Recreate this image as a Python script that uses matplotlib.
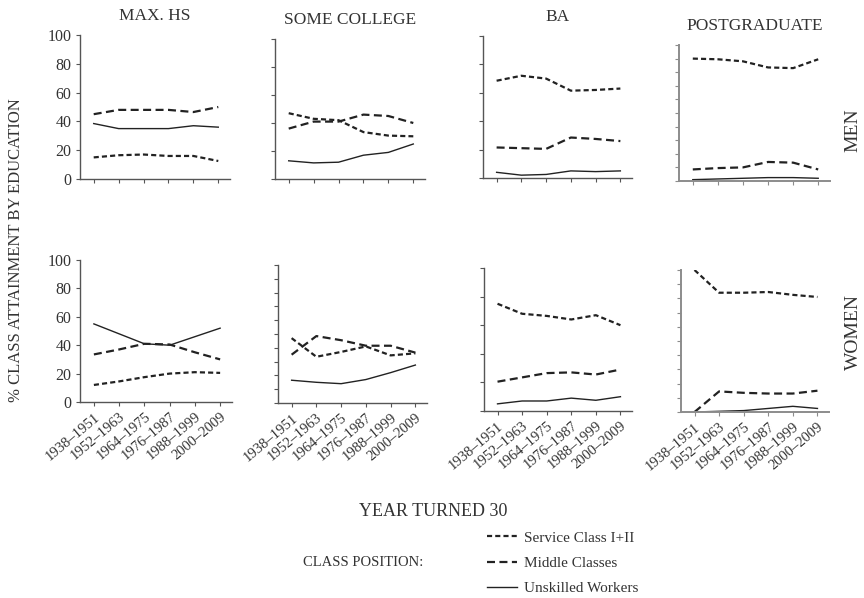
import numpy as np
import matplotlib.pyplot as plt
from matplotlib.ticker import MultipleLocator

plt.rcParams['font.family'] = ['Liberation Serif', 'DejaVu Serif']

# cohorts (year turned 30)
cohorts = ["1938–1951", "1952–1963", "1964–1975", "1976–1987", "1988–1999", "2000–2009"]
education = ["MAX. HS", "SOME COLLEGE", "BA", "POSTGRADUATE"]
sexes = ["MEN", "WOMEN"]

# % class attainment, men
men_service = [
    [15, 16.5, 17, 16, 16, 12.5],
    [47, 43, 42, 33.5, 31, 30.5],
    [68.5, 72, 70, 61.5, 62, 63],
    [90, 89.5, 88, 83.5, 83, 89.5],
]
men_middle = [
    [45, 48, 48, 48, 46.5, 50],
    [36, 41, 41, 46, 45, 40],
    [21.5, 21, 20.5, 28.5, 27.5, 26],
    [8.5, 9.5, 10, 14, 13.5, 8.5],
]
men_unskilled = [
    [38.5, 35, 35, 35, 37, 36],
    [13, 11.5, 12, 17, 19, 25],
    [4, 2, 2.5, 5, 4.5, 5],
    [1, 1.5, 2, 2.5, 2.5, 2],
]

# % class attainment, women
women_service = [
    [12, 14.5, 17.5, 20, 21, 20.5],
    [47, 33.5, 37, 41, 34.5, 36],
    [75, 68, 66.5, 64, 67, 60],
    [100, 84, 84, 84.5, 82.5, 81],
]
women_middle = [
    [33.5, 37, 41, 40.5, 35, 30],
    [35, 48.5, 45.5, 41.5, 41.5, 36.5],
    [20.5, 23.5, 26.5, 27, 25.5, 29],
    [0, 14.5, 13.5, 13, 13, 15],
]
women_unskilled = [
    [55, 48, 41, 40, 46, 52],
    [16.5, 15, 14, 17, 22, 27.5],
    [5, 7, 7, 9, 7.5, 10],
    [0, 0.5, 1, 2.5, 4, 2.5],
]

data = {
    "MEN": (men_service, men_middle, men_unskilled),
    "WOMEN": (women_service, women_middle, women_unskilled),
}

# panel boxes in pixels: (left, right, y of 100, y of 0)
W, H = 864, 598
boxes = {
    "MEN": [(80, 230, 35, 179), (275, 425, 39, 179), (483, 632, 36, 178), (679, 830, 45, 181)],
    "WOMEN": [(80, 232, 260, 402), (278, 427, 265, 403), (484, 632, 268, 411), (681, 829, 270, 412)],
}
# y tick step per panel
ystep = {"MEN": [20, 20, 20, 10], "WOMEN": [20, 10, 20, 10]}

text_col = '#333333'
line_col = '#222222'
service_style = dict(color=line_col, lw=1.6, dashes=(2.3, 1.4))
middle_style = dict(color=line_col, lw=1.6, dashes=(3.6, 2.0))
unskilled_style = dict(color=line_col, lw=1.0)

fig = plt.figure(figsize=(W / 100, H / 100), dpi=100)
x = np.arange(len(cohorts))

for r, sex in enumerate(sexes):
    service, middle, unskilled = data[sex]
    for c, edu in enumerate(education):
        x0, x1, y100, y0 = boxes[sex][c]
        ax = fig.add_axes([x0 / W, 1 - y0 / H, (x1 - x0) / W, (y0 - y100) / H])
        l1, = ax.plot(x, service[c], **service_style)
        l2, = ax.plot(x, middle[c], **middle_style)
        l3, = ax.plot(x, unskilled[c], **unskilled_style)

        ax.set_xlim(-0.55, 5.47)
        ax.set_ylim(0, 100)
        ax.yaxis.set_major_locator(MultipleLocator(ystep[sex][c]))
        ax.set_xticks(x)
        for s in ['top', 'right']:
            ax.spines[s].set_visible(False)
        spine_col = '#8c8c8c' if c == 3 else '#555555'
        for s in ['left', 'bottom']:
            ax.spines[s].set_color(spine_col)
            ax.spines[s].set_linewidth(1.4 if c == 3 else 1.0)
        ax.tick_params(length=3, width=0.8, color=spine_col, labelsize=11.5,
                       labelcolor=text_col, pad=3)
        if c > 0:
            ax.set_yticklabels([])
        if r == 0:
            ax.set_xticklabels([])
            ax.set_title(edu, fontsize=12.5, color=text_col, pad=11)
        else:
            ax.set_xticklabels(cohorts, rotation=40, ha='right',
                               rotation_mode='anchor', fontsize=10.5)

fig.text(853 / W, 1 - 130 / H, "MEN", rotation=90, ha='center', va='center',
         fontsize=14, color=text_col)
fig.text(853 / W, 1 - 332 / H, "WOMEN", rotation=90, ha='center', va='center',
         fontsize=14, color=text_col)
fig.text(16 / W, 1 - 250 / H, "% CLASS ATTAINMENT BY EDUCATION", rotation=90,
         ha='center', va='center', fontsize=12, color=text_col)
fig.text(433 / W, 1 - 512 / H, "YEAR TURNED 30", ha='center', va='center',
         fontsize=13, color=text_col)
fig.text(423 / W, 1 - 563 / H, "CLASS POSITION:", ha='right', va='center',
         fontsize=10.5, color=text_col)

fig.legend([l1, l2, l3], ["Service Class I+II", "Middle Classes", "Unskilled Workers"],
           loc='center left', bbox_to_anchor=(479 / W, 1 - 563 / H), frameon=False,
           fontsize=11, handlelength=2.0, handletextpad=0.45, labelspacing=0.75,
           labelcolor=text_col, borderpad=0)

fig.savefig("out.png", dpi=100)
